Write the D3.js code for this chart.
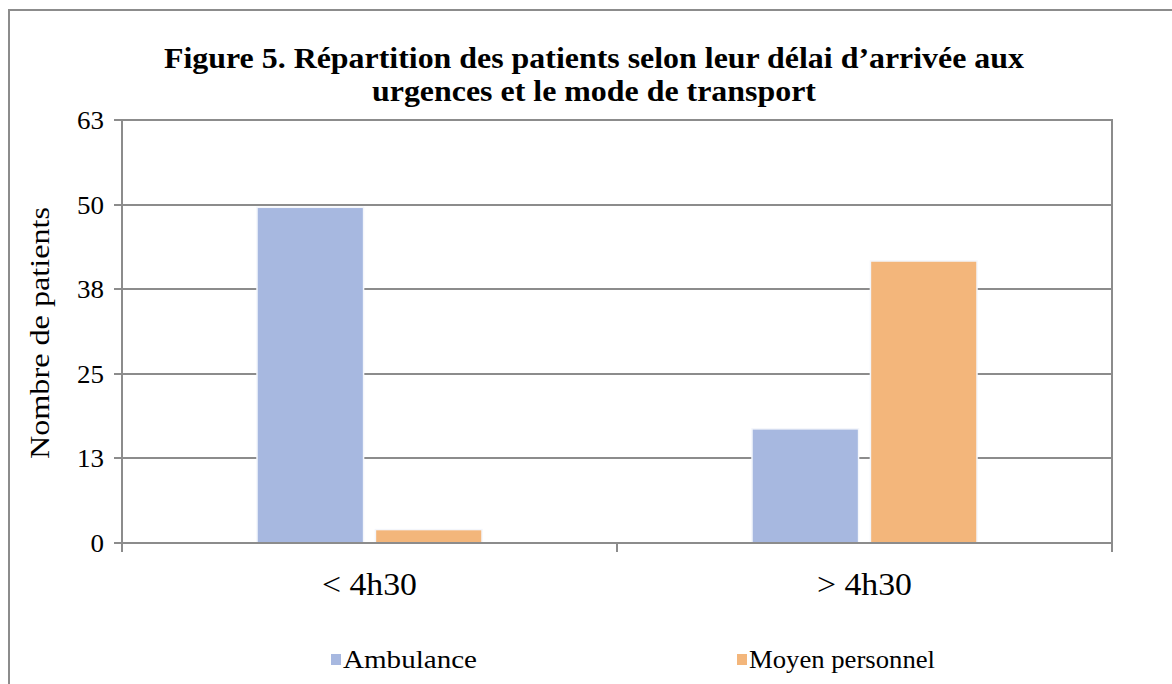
<!DOCTYPE html>
<html>
<head>
<meta charset="UTF-8">
<title>Figure 5</title>
<script src="https://d3js.org/d3.v7.min.js"></script>
<style>
  html, body { margin: 0; padding: 0; background: #fff; }
  svg { display: block; font-family: "Liberation Serif", "Times New Roman", serif; }
</style>
</head>
<body>
<svg id="chart" width="1172" height="684"></svg>
<script>
// data
var categories = ["< 4h30", "> 4h30"];
var seriesNames = ["Ambulance", "Moyen personnel"];
var ambulance = [50, 17];
var moyenPersonnel = [2, 42];
var yTicks = [0, 12.6, 25.2, 37.8, 50.4, 63];
var yTickLabels = ["0", "13", "25", "38", "50", "63"];

var colors = ["#a7b8e0", "#f3b67b"];
var gridColor = "#8c8c8c";

var svg = d3.select("#chart");

// outer frame (runs off the right/bottom edge like the source crop)
svg.append("rect")
  .attr("x", 9).attr("y", 10)
  .attr("width", 1200).attr("height", 700)
  .attr("fill", "none")
  .attr("stroke", gridColor)
  .attr("stroke-width", 2);

// title, two lines
var titleLines = [
  { t: "Figure 5. Répartition des patients selon leur délai d’arrivée aux", y: 68, w: 860 },
  { t: "urgences et le mode de transport", y: 101, w: 444 }
];
svg.selectAll(".title")
  .data(titleLines)
  .enter().append("text")
  .attr("class", "title")
  .attr("text-anchor", "middle")
  .attr("font-weight", "bold")
  .attr("font-size", 30)
  .attr("x", 594)
  .attr("y", function (d) { return d.y; })
  .attr("textLength", function (d) { return d.w; })
  .attr("lengthAdjust", "spacingAndGlyphs")
  .text(function (d) { return d.t; });

var plotLeft = 122, plotRight = 1112, plotTop = 120, plotBottom = 543;

var y = d3.scaleLinear().domain([0, 63]).range([plotBottom, plotTop]);
var x0 = d3.scaleBand().domain(categories).range([plotLeft, plotRight]).padding(0);
var x1 = d3.scaleBand().domain(seriesNames).range([135, 360]).paddingInner(0.1);

var g = svg.append("g");

// gridlines
g.selectAll(".grid")
  .data(yTicks)
  .enter().append("line")
  .attr("class", "grid")
  .attr("x1", plotLeft - 8).attr("x2", plotRight)
  .attr("y1", function (d) { return Math.round(y(d)); })
  .attr("y2", function (d) { return Math.round(y(d)); })
  .attr("stroke", gridColor)
  .attr("stroke-width", 2);

// right border of plot area
g.append("line")
  .attr("x1", plotRight).attr("x2", plotRight)
  .attr("y1", plotTop - 1).attr("y2", plotBottom + 1)
  .attr("stroke", gridColor).attr("stroke-width", 2);

// y tick labels
g.selectAll(".ylab")
  .data(yTicks)
  .enter().append("text")
  .attr("class", "ylab")
  .attr("x", 104)
  .attr("y", function (d) { return y(d) + 9; })
  .attr("text-anchor", "end")
  .attr("font-size", 26)
  .attr("textLength", function (d, i) { return yTickLabels[i].length * 13.5; })
  .attr("lengthAdjust", "spacingAndGlyphs")
  .text(function (d, i) { return yTickLabels[i]; });

// y axis title
svg.append("text")
  .attr("transform", "translate(49,333) rotate(-90)")
  .attr("text-anchor", "middle")
  .attr("font-size", 28)
  .attr("textLength", 252).attr("lengthAdjust", "spacingAndGlyphs")
  .text("Nombre de patients");

// bars
var rows = categories.map(function (c, i) {
  return { cat: c, vals: [ambulance[i], moyenPersonnel[i]] };
});

var groups = g.selectAll(".grp")
  .data(rows)
  .enter().append("g")
  .attr("class", "grp")
  .attr("transform", function (d) { return "translate(" + (x0(d.cat) - plotLeft) + ",0)"; });

groups.selectAll("rect")
  .data(function (d) { return d.vals.map(function (v, j) { return { s: seriesNames[j], v: v, j: j }; }); })
  .enter().append("rect")
  .attr("x", function (d) { return plotLeft + x1(d.s); })
  .attr("y", function (d) { return y(d.v); })
  .attr("width", x1.bandwidth())
  .attr("height", function (d) { return plotBottom - y(d.v); })
  .attr("fill", function (d) { return colors[d.j]; })
  .attr("stroke", "#f4f6fb")
  .attr("stroke-width", 1.5);

// axes lines drawn over bars
g.append("line")
  .attr("x1", plotLeft - 8).attr("x2", plotRight)
  .attr("y1", plotBottom).attr("y2", plotBottom)
  .attr("stroke", gridColor).attr("stroke-width", 2);
g.append("line")
  .attr("x1", plotLeft).attr("x2", plotLeft)
  .attr("y1", plotTop - 1).attr("y2", plotBottom + 9)
  .attr("stroke", gridColor).attr("stroke-width", 2);

// x category tick marks
var xTickPos = categories.map(function (c) { return x0(c) + x0.bandwidth(); });
g.selectAll(".xtick")
  .data(xTickPos)
  .enter().append("line")
  .attr("x1", function (d) { return d; }).attr("x2", function (d) { return d; })
  .attr("y1", plotBottom).attr("y2", plotBottom + 9)
  .attr("stroke", gridColor).attr("stroke-width", 2);

// x labels
g.selectAll(".xlab")
  .data(categories)
  .enter().append("text")
  .attr("x", function (d) { return x0(d) + x0.bandwidth() / 2; })
  .attr("y", 595)
  .attr("text-anchor", "middle")
  .attr("font-size", 31)
  .attr("textLength", 95).attr("lengthAdjust", "spacingAndGlyphs")
  .text(function (d) { return d; });

// legend
var legendX = [331, 737];
var legendW = [134, 186];
var legend = svg.selectAll(".leg")
  .data(seriesNames)
  .enter().append("g")
  .attr("transform", function (d, i) { return "translate(" + legendX[i] + ",0)"; });
legend.append("rect")
  .attr("x", 0).attr("y", 654)
  .attr("width", 10).attr("height", 11)
  .attr("fill", function (d, i) { return colors[i]; });
legend.append("text")
  .attr("x", 12).attr("y", 668)
  .attr("font-size", 25)
  .attr("textLength", function (d, i) { return legendW[i]; })
  .attr("lengthAdjust", "spacingAndGlyphs")
  .text(function (d) { return d; });
</script>
</body>
</html>
